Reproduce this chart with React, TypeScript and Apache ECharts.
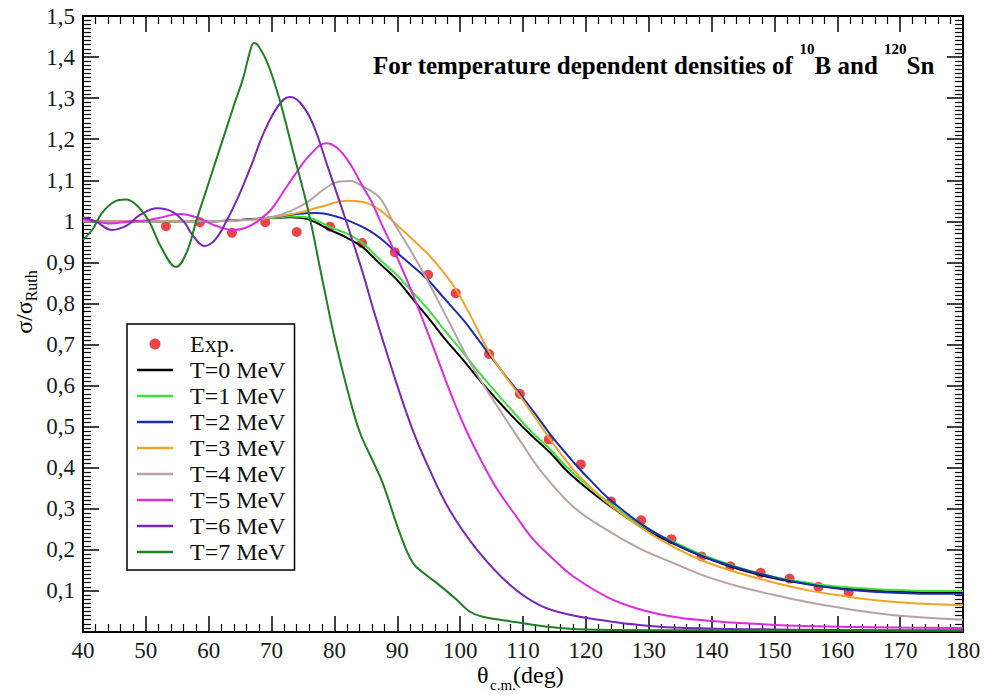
import React, { useEffect, useRef } from 'react';
import * as echarts from 'echarts';

const SERIF = 'Liberation Serif';

// Experimental points
const expTheta = [53.2, 58.6, 63.7, 69.0, 74.0, 79.3, 84.4, 89.6, 94.9, 99.3, 104.6, 109.5, 114.1, 119.2, 124.0, 128.8, 133.6, 138.4, 143.0, 147.8, 152.4, 157.0, 161.8];
const expRatio = [0.988, 0.998, 0.972, 0.998, 0.974, 0.987, 0.947, 0.925, 0.870, 0.825, 0.677, 0.580, 0.469, 0.408, 0.318, 0.272, 0.226, 0.184, 0.160, 0.144, 0.130, 0.110, 0.097];

// Calculated curves [theta, sigma/sigmaRuth]
const curveT0: [number, number][] = [
  [40, 1.0], [50, 1.0], [60, 1.0], [65, 1.003], [70, 1.008], [73, 1.01], [75.6, 1.006], [79.3, 0.979], [82, 0.96], [84.5, 0.937],
  [87, 0.9], [90, 0.857], [92.5, 0.81], [95.2, 0.76], [97.5, 0.715], [100.5, 0.662], [103, 0.615], [105.9, 0.565], [108.5, 0.522],
  [111.1, 0.482], [114.3, 0.437], [117, 0.392], [120, 0.352], [123.4, 0.312], [128.6, 0.258], [133.9, 0.215], [139, 0.181],
  [144.5, 0.152], [150, 0.131], [155.2, 0.117], [160, 0.108], [165.7, 0.101], [170, 0.098], [175, 0.097], [180, 0.097]
];
const curveT1: [number, number][] = [
  [40, 1.0], [50, 1.0], [60, 1.0], [65, 1.003], [70, 1.008], [73, 1.012], [75.6, 1.01], [79.3, 0.986], [82, 0.97], [84.5, 0.947],
  [87, 0.91], [90, 0.868], [92, 0.835], [95.2, 0.78], [97.5, 0.735], [100.5, 0.68], [103, 0.632], [105.9, 0.58], [108.5, 0.535],
  [111.1, 0.492], [114.3, 0.445], [117, 0.401], [120, 0.36], [123.4, 0.318], [128.6, 0.262], [133.9, 0.22], [139, 0.185],
  [144.5, 0.156], [150, 0.134], [155.2, 0.12], [160, 0.111], [165.7, 0.105], [170, 0.102], [175, 0.1], [180, 0.1]
];
const curveT2: [number, number][] = [
  [40, 1.0], [50, 1.0], [60, 1.0], [65, 1.003], [70, 1.01], [74, 1.018], [77.2, 1.02], [80, 1.013], [82.5, 1.0], [85, 0.982],
  [87.2, 0.96], [89.3, 0.932], [92, 0.897], [94.7, 0.86], [97.5, 0.812], [100.5, 0.76], [102.5, 0.72], [104.7, 0.675], [107, 0.628],
  [109.5, 0.58], [112, 0.53], [114.3, 0.482], [117, 0.432], [119, 0.397], [121, 0.365], [123.4, 0.328], [128.6, 0.265], [133.9, 0.217],
  [139, 0.182], [144.5, 0.155], [150, 0.133], [155.2, 0.117], [160, 0.106], [165.7, 0.098], [170, 0.095], [175, 0.093], [180, 0.093]
];
const curveT3: [number, number][] = [
  [40, 1.0], [50, 1.0], [60, 1.0], [66, 1.003], [70, 1.01], [74, 1.02], [78, 1.036], [82, 1.05], [84.5, 1.047], [87.2, 1.028],
  [89.3, 1.0], [92.5, 0.955], [95.2, 0.915], [97.5, 0.873], [99.5, 0.83], [102, 0.76], [104.5, 0.685], [107, 0.627], [109.5, 0.575],
  [112.7, 0.505], [115, 0.455], [118, 0.396], [120.5, 0.356], [123.4, 0.315], [128.6, 0.256], [133.9, 0.207], [139, 0.171],
  [144.5, 0.143], [150, 0.12], [155.2, 0.102], [160, 0.09], [165.7, 0.078], [172, 0.07], [180, 0.065]
];
const curveT4: [number, number][] = [
  [40, 1.0], [50, 1.0], [60, 1.0], [66, 1.003], [70, 1.01], [73, 1.025], [76, 1.05], [78.5, 1.08], [80.9, 1.097], [82.5, 1.098],
  [84.5, 1.085], [87.2, 1.057], [89.3, 1.0], [91.5, 0.945], [94.1, 0.876], [97.9, 0.765], [102, 0.645], [105.9, 0.55], [110, 0.455],
  [112.7, 0.395], [118, 0.305], [123.4, 0.248], [128.6, 0.203], [133.9, 0.168], [139, 0.136], [144.5, 0.11], [150, 0.09],
  [155.2, 0.073], [160, 0.06], [165.7, 0.047], [172, 0.037], [180, 0.03]
];
const curveT5: [number, number][] = [
  [40, 1.005], [42, 1.0], [44, 0.995], [46, 0.997], [48, 1.0], [50, 1.002], [52, 1.008], [55.4, 1.018], [58, 1.01], [61, 0.99],
  [63.9, 0.979], [66, 0.985], [68, 1.003], [70, 1.03], [72, 1.075], [74, 1.12], [76, 1.16], [78.7, 1.19], [80.5, 1.178], [82.5, 1.14],
  [84.5, 1.085], [86, 1.045], [87.3, 1.0], [89.6, 0.925], [92, 0.84], [95.2, 0.715], [98.4, 0.585], [101, 0.49], [103.6, 0.41],
  [106, 0.345], [109, 0.28], [111.5, 0.228], [114.3, 0.185], [118, 0.135], [123.4, 0.085], [128, 0.058], [133.9, 0.037], [139, 0.028],
  [144.5, 0.022], [152, 0.016], [160, 0.013], [170, 0.011], [180, 0.01]
];
const curveT6: [number, number][] = [
  [40, 1.01], [42, 1.0], [44.6, 0.979], [47, 0.99], [49, 1.015], [51.8, 1.032], [54, 1.025], [56, 1.0], [57.5, 0.965], [59.3, 0.94],
  [61, 0.955], [62.8, 1.0], [65, 1.07], [67, 1.145], [68.6, 1.21], [71, 1.28], [72.9, 1.303], [74.5, 1.29], [76.5, 1.24], [79, 1.13],
  [81, 1.04], [82.3, 0.98], [84.5, 0.875], [86.1, 0.79], [87.3, 0.73], [90, 0.6], [92.5, 0.49], [94.7, 0.41], [98.4, 0.295],
  [102.7, 0.2], [107.9, 0.115], [112.7, 0.065], [118, 0.04], [123.4, 0.027], [128, 0.018], [134, 0.011], [145, 0.007], [160, 0.005],
  [180, 0.004]
];
const curveT7: [number, number][] = [
  [40, 0.955], [41.5, 0.98], [43, 1.02], [45, 1.048], [46.8, 1.053], [48.5, 1.04], [50.5, 1.0], [52.5, 0.935], [54.8, 0.889],
  [56.5, 0.925], [58, 1.0], [60, 1.094], [62, 1.188], [64, 1.282], [65.5, 1.35], [66.5, 1.41], [67.2, 1.434], [68, 1.425],
  [69.5, 1.38], [71.3, 1.295], [73.5, 1.165], [75.8, 1.028], [78, 0.864], [80.1, 0.711], [82.5, 0.565], [84.1, 0.484], [86, 0.42],
  [87.7, 0.362], [90.4, 0.241], [92.5, 0.168], [94.5, 0.14], [96.3, 0.119], [99.5, 0.078], [101.5, 0.05], [103.6, 0.037],
  [109, 0.024], [114.3, 0.012], [120, 0.006], [140, 0.004], [180, 0.003]
];

const curveNames = ['T=0 MeV', 'T=1 MeV', 'T=2 MeV', 'T=3 MeV', 'T=4 MeV', 'T=5 MeV', 'T=6 MeV', 'T=7 MeV'];
const curveColors = ['#000000', '#3ee03e', '#1b2db0', '#eea52a', '#b8a3a3', '#e02ae0', '#7a26b8', '#1f7f23'];
const curves = [curveT0, curveT1, curveT2, curveT3, curveT4, curveT5, curveT6, curveT7];

const LINE_ICON = 'path://M0,0 L36,0 L36,2.6 L0,2.6 Z';

const yTickLabel = (v: number) => {
  const r = Math.round(v * 10) / 10;
  if (r === 0) return '';
  if (r === 1) return '1';
  return r.toFixed(1).replace('.', ',');
};

export default function App() {
  const ref = useRef<HTMLDivElement>(null);
  useEffect(() => {
    if (!ref.current) return;
    const chart = echarts.init(ref.current, undefined, { renderer: 'svg' });

    const axisLine = { show: true, onZero: false, lineStyle: { color: '#000', width: 2 } };
    const xCommon = {
      type: 'value' as const, min: 40, max: 180, interval: 10,
      axisLine,
      axisTick: { show: true, inside: true, length: 16, lineStyle: { color: '#000', width: 1.5 } },
      minorTick: { show: true, splitNumber: 5, length: 8, lineStyle: { color: '#000', width: 1.2 } },
      splitLine: { show: false }, minorSplitLine: { show: false },
    };
    const yCommon = {
      type: 'value' as const, min: 0, max: 1.5, interval: 0.1,
      axisLine,
      axisTick: { show: true, inside: true, length: 16, lineStyle: { color: '#000', width: 1.5 } },
      minorTick: { show: true, splitNumber: 10, length: 8, lineStyle: { color: '#000', width: 1.2 } },
      splitLine: { show: false }, minorSplitLine: { show: false },
    };

    const series: any[] = [
      {
        name: 'Exp.', type: 'scatter', xAxisIndex: 0, yAxisIndex: 0,
        data: expTheta.map((t, i) => [t, expRatio[i]]),
        symbol: 'circle', symbolSize: 10,
        itemStyle: { color: '#e8141c' }, z: 2,
      },
      ...curves.map((c, i) => ({
        name: curveNames[i], type: 'line', xAxisIndex: 0, yAxisIndex: 0,
        data: c, symbol: 'none', showSymbol: false, smooth: 0.4,
        lineStyle: { color: curveColors[i], width: 2 }, itemStyle: { color: curveColors[i] }, z: 3,
      })),
    ];

    chart.setOption({
      animation: false,
      backgroundColor: '#ffffff',
      grid: { left: 83, right: 22, top: 16, bottom: 64, containLabel: false },
      xAxis: [
        {
          ...xCommon, position: 'bottom',
          axisLabel: { show: true, fontSize: 23, fontFamily: SERIF, color: '#1a1a1a', margin: 7, formatter: (v: number) => String(Math.round(v)) },
        },
        { ...xCommon, position: 'top', axisLabel: { show: false } },
      ],
      yAxis: [
        {
          ...yCommon, position: 'left',
          axisLabel: { show: true, fontSize: 23, fontFamily: SERIF, color: '#1a1a1a', margin: 8, formatter: yTickLabel },
        },
        { ...yCommon, position: 'right', axisLabel: { show: false } },
      ],
      legend: {
        orient: 'vertical', left: 127, top: 324,
        padding: [8, 9, 6, 10], itemGap: 2, itemWidth: 36, itemHeight: 11,
        borderColor: '#000', borderWidth: 1.5, backgroundColor: '#fff', borderRadius: 0,
        textStyle: { fontSize: 24, fontFamily: SERIF, color: '#111', padding: [0, 0, 0, 12], lineHeight: 24 },
        data: [
          { name: 'Exp.', icon: 'circle', itemStyle: { color: '#e8141c' } },
          ...curveNames.map((n, i) => ({ name: n, icon: LINE_ICON, itemStyle: { color: curveColors[i] } })),
        ],
        selectedMode: false,
      },
      graphic: [
        {
          type: 'text', x: 373, y: 65,
          style: {
            text: 'For temperature dependent densities of {sup|10}B and {sup|120}Sn',
            fontSize: 25, fontWeight: 'bold', fontFamily: SERIF, fill: '#000',
            align: 'left', verticalAlign: 'middle',
            rich: {
              sup: { fontSize: 15, fontWeight: 'bold', fontFamily: SERIF, verticalAlign: 'top', padding: [0, 0, 32, 0] },
            },
          },
        },
        {
          type: 'text', x: 24, y: 302, rotation: Math.PI / 2,
          style: {
            text: 'σ/σ{sub|Ruth}',
            fontSize: 24, fontFamily: SERIF, fill: '#000',
            align: 'center', verticalAlign: 'middle',
            rich: {
              sub: { fontSize: 16, fontFamily: SERIF, verticalAlign: 'bottom', padding: [14, 0, 0, 0] },
            },
          },
        },
        {
          type: 'text', x: 477, y: 675,
          style: { text: 'θ', fontSize: 24, fontFamily: SERIF, fill: '#000', align: 'left', verticalAlign: 'middle' },
        },
        {
          type: 'text', x: 490, y: 685,
          style: { text: 'c.m.', fontSize: 15, fontFamily: SERIF, fill: '#000', align: 'left', verticalAlign: 'middle' },
        },
        {
          type: 'text', x: 513, y: 675,
          style: { text: '(deg)', fontSize: 24, fontFamily: SERIF, fill: '#000', align: 'left', verticalAlign: 'middle' },
        },
      ],
      series,
    });
    return () => chart.dispose();
  }, []);

  return (
    <div
      ref={ref}
      style={{ position: 'fixed', left: 0, top: 0, width: 985, height: 696, background: '#fff' }}
    />
  );
}
